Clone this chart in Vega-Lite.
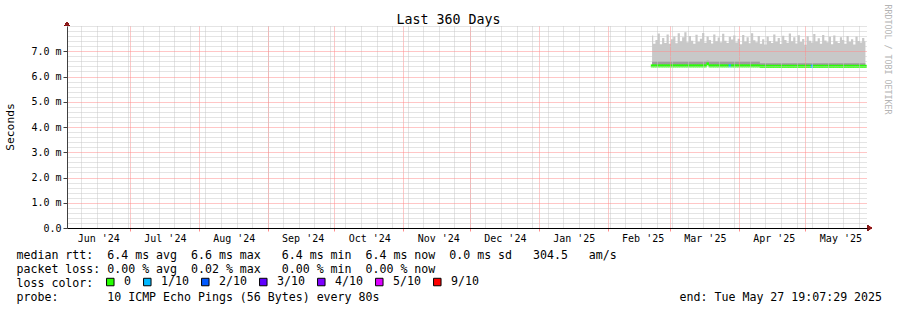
{
  "$schema": "https://vega.github.io/schema/vega-lite/v6.json",
  "width": 800,
  "height": 202,
  "autosize": {"type": "none"},
  "padding": {"left": 67, "top": 26, "right": 30, "bottom": 82},
  "background": "white",
  "config": {"view": {"stroke": null}},
  "title": {"text": "Last 360 Days", "font": "DejaVu Sans Mono", "fontSize": 13.3, "fontWeight": "normal", "color": "#000000", "anchor": "middle", "frame": "group", "dx": -18.5, "offset": 0, "baseline": "alphabetic", "dy": 33.5},
  "data": {"values": [
    {"t":"2025-02-21","hi":7.62,"mid":6.6,"med":6.42,"loss":"0"},
    {"t":"2025-02-22","hi":7.30,"mid":6.6,"med":6.42,"loss":"0"},
    {"t":"2025-02-23","hi":7.45,"mid":6.6,"med":6.42,"loss":"0"},
    {"t":"2025-02-24","hi":7.70,"mid":6.6,"med":6.42,"loss":"0"},
    {"t":"2025-02-25","hi":7.28,"mid":6.6,"med":6.42,"loss":"0"},
    {"t":"2025-02-26","hi":7.52,"mid":6.6,"med":6.42,"loss":"0"},
    {"t":"2025-02-27","hi":7.33,"mid":6.6,"med":6.42,"loss":"0"},
    {"t":"2025-02-28","hi":7.66,"mid":6.6,"med":6.42,"loss":"0"},
    {"t":"2025-03-01","hi":7.30,"mid":6.6,"med":6.42,"loss":"0"},
    {"t":"2025-03-02","hi":7.48,"mid":6.6,"med":6.42,"loss":"0"},
    {"t":"2025-03-03","hi":7.58,"mid":6.6,"med":6.42,"loss":"0"},
    {"t":"2025-03-04","hi":7.32,"mid":6.6,"med":6.42,"loss":"0"},
    {"t":"2025-03-05","hi":7.71,"mid":6.6,"med":6.42,"loss":"0"},
    {"t":"2025-03-06","hi":7.40,"mid":6.6,"med":6.42,"loss":"0"},
    {"t":"2025-03-07","hi":7.55,"mid":6.6,"med":6.42,"loss":"0"},
    {"t":"2025-03-08","hi":7.75,"mid":6.6,"med":6.42,"loss":"0"},
    {"t":"2025-03-09","hi":7.36,"mid":6.6,"med":6.42,"loss":"0"},
    {"t":"2025-03-10","hi":7.60,"mid":6.6,"med":6.42,"loss":"0"},
    {"t":"2025-03-11","hi":7.42,"mid":6.6,"med":6.42,"loss":"0"},
    {"t":"2025-03-12","hi":7.30,"mid":6.6,"med":6.42,"loss":"0"},
    {"t":"2025-03-13","hi":7.65,"mid":6.6,"med":6.42,"loss":"0"},
    {"t":"2025-03-14","hi":7.38,"mid":6.6,"med":6.42,"loss":"0"},
    {"t":"2025-03-15","hi":7.50,"mid":6.6,"med":6.42,"loss":"0"},
    {"t":"2025-03-16","hi":7.72,"mid":6.6,"med":6.42,"loss":"0"},
    {"t":"2025-03-17","hi":7.34,"mid":6.6,"med":6.42,"loss":"0"},
    {"t":"2025-03-18","hi":7.58,"mid":6.62,"med":6.5,"loss":"0"},
    {"t":"2025-03-19","hi":7.45,"mid":6.6,"med":6.42,"loss":"0"},
    {"t":"2025-03-20","hi":7.31,"mid":6.6,"med":6.42,"loss":"0"},
    {"t":"2025-03-21","hi":7.66,"mid":6.6,"med":6.42,"loss":"0"},
    {"t":"2025-03-22","hi":7.40,"mid":6.6,"med":6.42,"loss":"0"},
    {"t":"2025-03-23","hi":7.54,"mid":6.6,"med":6.42,"loss":"0"},
    {"t":"2025-03-24","hi":7.36,"mid":6.6,"med":6.42,"loss":"0"},
    {"t":"2025-03-25","hi":7.69,"mid":6.6,"med":6.42,"loss":"0"},
    {"t":"2025-03-26","hi":7.42,"mid":6.6,"med":6.42,"loss":"0"},
    {"t":"2025-03-27","hi":7.33,"mid":6.6,"med":6.42,"loss":"0"},
    {"t":"2025-03-28","hi":7.57,"mid":6.6,"med":6.42,"loss":"1/10"},
    {"t":"2025-03-29","hi":7.47,"mid":6.6,"med":6.42,"loss":"0"},
    {"t":"2025-03-30","hi":7.62,"mid":6.6,"med":6.42,"loss":"0"},
    {"t":"2025-03-31","hi":7.35,"mid":6.6,"med":6.42,"loss":"0"},
    {"t":"2025-04-01","hi":7.50,"mid":6.6,"med":6.42,"loss":"0"},
    {"t":"2025-04-02","hi":7.28,"mid":6.6,"med":6.42,"loss":"0"},
    {"t":"2025-04-03","hi":7.64,"mid":6.6,"med":6.42,"loss":"0"},
    {"t":"2025-04-04","hi":7.39,"mid":6.6,"med":6.42,"loss":"0"},
    {"t":"2025-04-05","hi":7.55,"mid":6.6,"med":6.42,"loss":"0"},
    {"t":"2025-04-06","hi":7.32,"mid":6.6,"med":6.42,"loss":"0"},
    {"t":"2025-04-07","hi":7.71,"mid":6.6,"med":6.42,"loss":"0"},
    {"t":"2025-04-08","hi":7.44,"mid":6.6,"med":6.42,"loss":"0"},
    {"t":"2025-04-09","hi":7.36,"mid":6.6,"med":6.42,"loss":"0"},
    {"t":"2025-04-10","hi":7.60,"mid":6.6,"med":6.42,"loss":"0"},
    {"t":"2025-04-11","hi":7.30,"mid":6.52,"med":6.405,"loss":"0"},
    {"t":"2025-04-12","hi":7.48,"mid":6.52,"med":6.405,"loss":"0"},
    {"t":"2025-04-13","hi":7.27,"mid":6.52,"med":6.405,"loss":"0"},
    {"t":"2025-04-14","hi":7.58,"mid":6.52,"med":6.405,"loss":"0"},
    {"t":"2025-04-15","hi":7.41,"mid":6.52,"med":6.405,"loss":"0"},
    {"t":"2025-04-16","hi":7.33,"mid":6.52,"med":6.405,"loss":"0"},
    {"t":"2025-04-17","hi":7.66,"mid":6.52,"med":6.405,"loss":"0"},
    {"t":"2025-04-18","hi":7.38,"mid":6.52,"med":6.405,"loss":"0"},
    {"t":"2025-04-19","hi":7.52,"mid":6.52,"med":6.405,"loss":"0"},
    {"t":"2025-04-20","hi":7.29,"mid":6.52,"med":6.405,"loss":"0"},
    {"t":"2025-04-21","hi":7.61,"mid":6.52,"med":6.405,"loss":"0"},
    {"t":"2025-04-22","hi":7.45,"mid":6.52,"med":6.405,"loss":"0"},
    {"t":"2025-04-23","hi":7.34,"mid":6.52,"med":6.405,"loss":"0"},
    {"t":"2025-04-24","hi":7.70,"mid":6.52,"med":6.405,"loss":"0"},
    {"t":"2025-04-25","hi":7.40,"mid":6.52,"med":6.405,"loss":"0"},
    {"t":"2025-04-26","hi":7.55,"mid":6.52,"med":6.405,"loss":"0"},
    {"t":"2025-04-27","hi":7.31,"mid":6.52,"med":6.405,"loss":"0"},
    {"t":"2025-04-28","hi":7.63,"mid":6.52,"med":6.405,"loss":"0"},
    {"t":"2025-04-29","hi":7.37,"mid":6.52,"med":6.405,"loss":"0"},
    {"t":"2025-04-30","hi":7.49,"mid":6.52,"med":6.405,"loss":"0"},
    {"t":"2025-05-01","hi":7.26,"mid":6.52,"med":6.405,"loss":"0"},
    {"t":"2025-05-02","hi":7.59,"mid":6.52,"med":6.405,"loss":"0"},
    {"t":"2025-05-03","hi":7.42,"mid":6.52,"med":6.405,"loss":"0"},
    {"t":"2025-05-04","hi":7.35,"mid":6.52,"med":6.405,"loss":"1/10"},
    {"t":"2025-05-05","hi":7.68,"mid":6.52,"med":6.405,"loss":"0"},
    {"t":"2025-05-06","hi":7.39,"mid":6.52,"med":6.405,"loss":"0"},
    {"t":"2025-05-07","hi":7.51,"mid":6.52,"med":6.405,"loss":"0"},
    {"t":"2025-05-08","hi":7.30,"mid":6.52,"med":6.405,"loss":"0"},
    {"t":"2025-05-09","hi":7.64,"mid":6.52,"med":6.405,"loss":"0"},
    {"t":"2025-05-10","hi":7.43,"mid":6.52,"med":6.405,"loss":"0"},
    {"t":"2025-05-11","hi":7.36,"mid":6.52,"med":6.405,"loss":"0"},
    {"t":"2025-05-12","hi":7.57,"mid":6.52,"med":6.405,"loss":"0"},
    {"t":"2025-05-13","hi":7.28,"mid":6.52,"med":6.405,"loss":"0"},
    {"t":"2025-05-14","hi":7.62,"mid":6.52,"med":6.405,"loss":"0"},
    {"t":"2025-05-15","hi":7.40,"mid":6.52,"med":6.405,"loss":"0"},
    {"t":"2025-05-16","hi":7.33,"mid":6.52,"med":6.405,"loss":"0"},
    {"t":"2025-05-17","hi":7.55,"mid":6.52,"med":6.405,"loss":"0"},
    {"t":"2025-05-18","hi":7.45,"mid":6.52,"med":6.405,"loss":"0"},
    {"t":"2025-05-19","hi":7.30,"mid":6.52,"med":6.405,"loss":"0"},
    {"t":"2025-05-20","hi":7.60,"mid":6.52,"med":6.405,"loss":"0"},
    {"t":"2025-05-21","hi":7.38,"mid":6.52,"med":6.405,"loss":"0"},
    {"t":"2025-05-22","hi":7.48,"mid":6.52,"med":6.405,"loss":"0"},
    {"t":"2025-05-23","hi":7.27,"mid":6.52,"med":6.405,"loss":"0"},
    {"t":"2025-05-24","hi":7.58,"mid":6.52,"med":6.405,"loss":"0"},
    {"t":"2025-05-25","hi":7.41,"mid":6.52,"med":6.405,"loss":"0"},
    {"t":"2025-05-26","hi":7.35,"mid":6.52,"med":6.405,"loss":"0"},
    {"t":"2025-05-27","hi":7.52,"mid":6.52,"med":6.405,"loss":"0"},
    {"t":"2025-05-28","hi":7.40,"mid":6.52,"med":6.405,"loss":"0"}
  ]},
  "resolve": {"axis": {"x": "independent", "y": "independent"}},
  "layer": [
    {
      "mark": {"type": "area", "interpolate": "step", "color": "#c8c8c8"},
      "encoding": {
        "x": {"field": "t", "type": "temporal",
          "scale": {"type": "utc", "domain": [{"year":2024,"month":6,"date":2,"hours":17,"utc":true},{"year":2025,"month":5,"date":28,"hours":17,"utc":true}]},
          "axis": {"orient": "bottom", "zindex": 1, "grid": true, "gridColor": "#c8c8c8", "gridDash": [1,1], "gridOpacity": 1, "tickCount": {"interval": "week", "step": 1}, "labels": false, "ticks": false, "domain": false, "title": null}},
        "y": {"field": "hi", "type": "quantitative",
          "scale": {"domain": [0, 8], "nice": false, "zero": true},
          "axis": {"orient": "left", "zindex": 1, "grid": true, "gridColor": "#c8c8c8", "gridDash": [1,1], "gridOpacity": 1, "values": [0.2,0.4,0.6,0.8,1.2,1.4,1.6,1.8,2.2,2.4,2.6,2.8,3.2,3.4,3.6,3.8,4.2,4.4,4.6,4.8,5.2,5.4,5.6,5.8,6.2,6.4,6.6,6.8,7.2,7.4,7.6,7.8,8.0], "labels": false, "ticks": false, "domain": false, "title": null}},
        "y2": {"field": "med"}
      }
    },
    {
      "mark": {"type": "area", "interpolate": "step", "color": "#9c9c9c"},
      "encoding": {
        "x": {"field": "t", "type": "temporal",
          "scale": {"type": "utc", "domain": [{"year":2024,"month":6,"date":2,"hours":17,"utc":true},{"year":2025,"month":5,"date":28,"hours":17,"utc":true}]},
          "axis": {"orient": "bottom", "zindex": 1, "grid": false, "ticks": false, "domain": false, "title": null, "format": "%b '%y", "labelFont": "DejaVu Sans Mono", "labelFontSize": 10, "labelColor": "#000000", "labelPadding": 5, "labelBaseline": "top", "labelFlush": false, "labelOverlap": false,
            "values": [
              {"year":2024,"month":6,"date":16,"hours":18,"utc":true},
              {"year":2024,"month":7,"date":16,"hours":18,"utc":true},
              {"year":2024,"month":8,"date":16,"hours":18,"utc":true},
              {"year":2024,"month":9,"date":16,"hours":18,"utc":true},
              {"year":2024,"month":10,"date":16,"hours":18,"utc":true},
              {"year":2024,"month":11,"date":16,"hours":18,"utc":true},
              {"year":2024,"month":12,"date":16,"hours":18,"utc":true},
              {"year":2025,"month":1,"date":16,"hours":18,"utc":true},
              {"year":2025,"month":2,"date":16,"hours":18,"utc":true},
              {"year":2025,"month":3,"date":16,"hours":18,"utc":true},
              {"year":2025,"month":4,"date":16,"hours":18,"utc":true},
              {"year":2025,"month":5,"date":16,"hours":18,"utc":true}
            ]}},
        "y": {"field": "mid", "type": "quantitative",
          "scale": {"domain": [0, 8], "nice": false, "zero": true},
          "axis": {"orient": "right", "title": "RRDTOOL / TOBI OETIKER", "labels": false, "ticks": false, "domain": false, "grid": false, "titleAngle": 90, "titleX": 19, "titleY": -22, "titleAlign": "left", "titleBaseline": "middle", "titleFont": "DejaVu Sans Mono", "titleFontSize": 8.3, "titleFontWeight": "normal", "titleColor": "#b4b4b4"}},
        "y2": {"field": "med"}
      }
    },
    {
      "mark": {"type": "tick", "orient": "horizontal", "size": 2.6, "thickness": 3, "opacity": 1},
      "encoding": {
        "x": {"field": "t", "type": "temporal",
          "scale": {"type": "utc", "domain": [{"year":2024,"month":6,"date":2,"hours":17,"utc":true},{"year":2025,"month":5,"date":28,"hours":17,"utc":true}]},
          "axis": {"orient": "bottom", "zindex": 1, "grid": true, "gridColor": "#ff8c8c", "gridDash": [1,1], "gridOpacity": 1, "tickCount": {"interval": "month", "step": 1}, "labels": false, "ticks": true, "tickColor": "#ff8c8c", "tickSize": 3, "domain": true, "domainColor": "#000000",
            "title": [
              "median\u00a0rtt:\u00a0\u00a06.4\u00a0ms\u00a0avg\u00a0\u00a06.6\u00a0ms\u00a0max\u00a0\u00a0\u00a06.4\u00a0ms\u00a0min\u00a0\u00a06.4\u00a0ms\u00a0now\u00a0\u00a00.0\u00a0ms\u00a0sd\u00a0\u00a0\u00a0304.5\u00a0\u00a0\u00a0am/s",
              "packet\u00a0loss:\u00a00.00\u00a0%\u00a0avg\u00a0\u00a00.02\u00a0%\u00a0max\u00a0\u00a0\u00a00.00\u00a0%\u00a0min\u00a0\u00a00.00\u00a0%\u00a0now",
              "loss\u00a0color:",
              "probe:\u00a0\u00a0\u00a0\u00a0\u00a0\u00a0\u00a010\u00a0ICMP\u00a0Echo\u00a0Pings\u00a0(56\u00a0Bytes)\u00a0every\u00a080s\u00a0\u00a0\u00a0\u00a0\u00a0\u00a0\u00a0\u00a0\u00a0\u00a0\u00a0\u00a0\u00a0\u00a0\u00a0\u00a0\u00a0\u00a0\u00a0\u00a0\u00a0\u00a0\u00a0\u00a0\u00a0\u00a0\u00a0\u00a0\u00a0\u00a0\u00a0\u00a0\u00a0\u00a0\u00a0\u00a0\u00a0\u00a0\u00a0\u00a0\u00a0\u00a0\u00a0end:\u00a0Tue\u00a0May\u00a027\u00a019:07:29\u00a02025"
            ],
            "titleX": -51, "titleY": 30, "titleAlign": "left", "titleAnchor": "start", "titleAngle": 0, "titleBaseline": "alphabetic", "titleLineHeight": 14, "titleFont": "DejaVu Sans Mono", "titleFontSize": 11.6, "titleFontWeight": "normal", "titleColor": "#000000"}},
        "y": {"field": "med", "type": "quantitative",
          "scale": {"domain": [0, 8], "nice": false, "zero": true},
          "axis": {"orient": "left", "zindex": 1, "grid": true, "gridColor": "#ff8c8c", "gridDash": [1,1], "gridOpacity": 1, "values": [0,1,2,3,4,5,6,7], "labelExpr": "datum.value === 0 ? '0.0' : format(datum.value, '.1f') + ' m'", "labelFont": "DejaVu Sans Mono", "labelFontSize": 10, "labelColor": "#000000", "labelPadding": 2, "ticks": true, "tickSize": 4, "tickColor": "#404040", "domain": true, "domainColor": "#404040",
            "title": "Seconds", "titleX": -57, "titleY": 100.5, "titleAngle": -90, "titleAlign": "center", "titleBaseline": "middle", "titleFont": "DejaVu Sans Mono", "titleFontSize": 11.3, "titleFontWeight": "normal", "titleColor": "#000000"}},
        "color": {"field": "loss", "type": "nominal",
          "scale": {"domain": ["0","1/10","2/10","3/10","4/10","5/10","9/10"], "range": ["#26ff00","#00b8ff","#0059ff","#5e00ff","#7e00ff","#dd00ff","#ff0000"]},
          "legend": {"orient": "none", "legendX": 37.5, "legendY": 250, "direction": "horizontal", "title": null, "symbolType": "square", "symbolSize": 56, "symbolStrokeColor": "#000000", "symbolStrokeWidth": 1, "symbolOpacity": 1, "labelFont": "DejaVu Sans Mono", "labelFontSize": 11.6, "labelColor": "#000000", "labelOffset": 8, "columnPadding": 10, "padding": 0, "rowPadding": 0}}
      }
    },
    {
      "mark": {"type": "point", "shape": "M-0.55,-0.17L0.55,-0.17L0,-1Z", "filled": true, "size": 64, "color": "#8b1a1a", "opacity": 1},
      "encoding": {
        "x": {"datum": {"year":2024,"month":6,"date":2,"hours":17,"utc":true}, "type": "temporal", "axis": null,
          "scale": {"type": "utc", "domain": [{"year":2024,"month":6,"date":2,"hours":17,"utc":true},{"year":2025,"month":5,"date":28,"hours":17,"utc":true}]}},
        "y": {"datum": 8, "type": "quantitative", "axis": null, "scale": {"domain": [0, 8], "nice": false, "zero": true}}
      }
    },
    {
      "mark": {"type": "point", "shape": "M0.2,-0.55L0.2,0.55L1.25,0Z", "filled": true, "size": 64, "color": "#8b1a1a", "opacity": 1},
      "encoding": {
        "x": {"datum": {"year":2025,"month":5,"date":28,"hours":17,"utc":true}, "type": "temporal", "axis": null,
          "scale": {"type": "utc", "domain": [{"year":2024,"month":6,"date":2,"hours":17,"utc":true},{"year":2025,"month":5,"date":28,"hours":17,"utc":true}]}},
        "y": {"datum": 0, "type": "quantitative", "axis": null, "scale": {"domain": [0, 8], "nice": false, "zero": true}}
      }
    }
  ]
}
